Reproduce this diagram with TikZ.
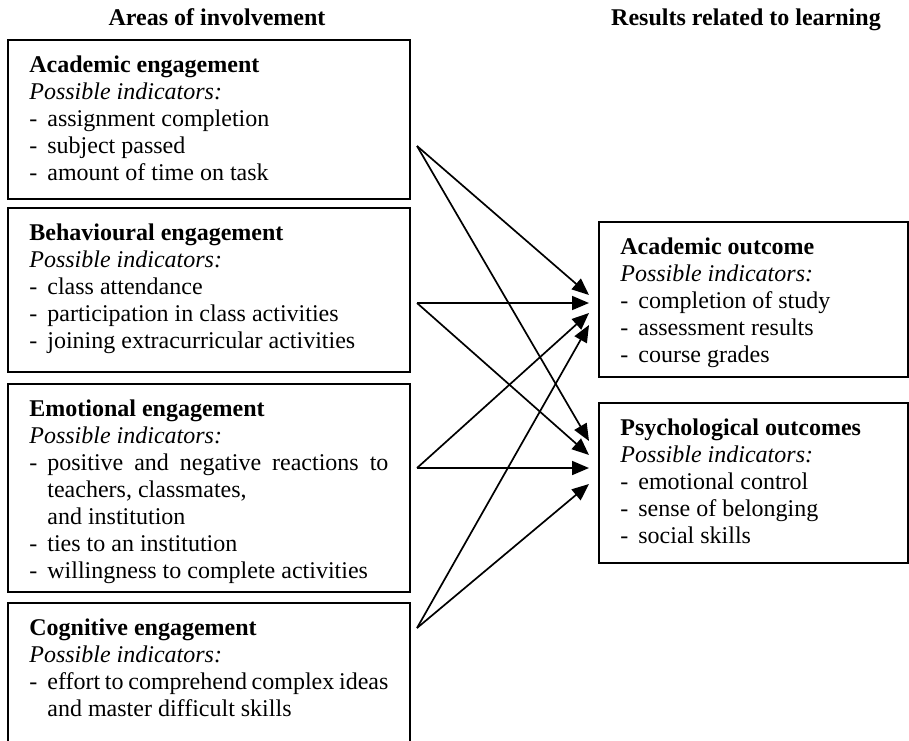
\documentclass[tikz,border=0pt]{standalone}
\usepackage{fontspec}
\setmainfont{Liberation Serif}
\usetikzlibrary{arrows.meta}
\newcommand\itm[1]{\par\noindent\hangindent=9pt\hangafter=1\makebox[9pt][l]{-}#1\par}
\newcommand\hd[1]{\noindent\strut\textbf{#1}\par}
\newcommand\posind{\noindent\textit{Possible indicators:}\par}
\begin{document}
\begin{tikzpicture}[x=0.5pt,y=-0.5pt,
  box/.style={draw,line width=1pt,anchor=north west,inner sep=0pt,outer sep=0pt,minimum width=201pt},
  rbox/.style={box,minimum width=154.5pt},
  txt/.style={anchor=north west,inner sep=0pt,text width=179.5pt,align=justify,font=\fontsize{12}{13.5}\selectfont},
  rtxt/.style={txt,text width=140pt},
  arr/.style={-{Triangle[length=8.5pt,width=7pt]},line width=0.85pt},
  title/.style={font=\fontsize{12}{13.5}\selectfont\bfseries,anchor=base}]
\useasboundingbox (0,0) rectangle (909,740);
% titles
\node[title] (h1) at (217,25) {Areas of involvement};
\node[title] (h2) at (746,25) {Results related to learning};
% left boxes
\node[box,minimum height=79.5pt] (b1) at (8,40) {};
\node[box,minimum height=82pt] (b2) at (8,208) {};
\node[box,minimum height=104pt] (b3) at (8,384) {};
\node[box,draw=none,minimum height=72pt] (b4) at (8,603) {};
\draw[line width=1pt] (b4.south west) -- (b4.north west) -- (b4.north east) -- (b4.south east);
% right boxes
\node[rbox,minimum height=77.5pt] (ra) at (599,222) {};
\node[rbox,minimum height=80pt] (rp) at (599,403) {};
% texts
\node[txt] (t1) at (29,53.1) {\hd{Academic engagement}\posind
  \itm{assignment completion}\itm{subject passed}\itm{amount of time on task}};
\node[txt] (t2) at (29,221.1) {\hd{Behavioural engagement}\posind
  \itm{class attendance}\itm{participation in class activities}\itm{joining extracurricular activities}};
\node[txt] (t3) at (29,397.1) {\hd{Emotional engagement}\posind
  \itm{positive and negative reactions to\linebreak teachers, classmates,\newline and institution}
  \itm{ties to an institution}\itm{willingness to complete activities}};
\node[txt] (t4) at (29,616.1) {\hd{Cognitive engagement}\posind
  \itm{effort to comprehend complex ideas\linebreak and master difficult skills}};
\node[rtxt] (tra) at (620,235.1) {\hd{Academic outcome}\posind
  \itm{completion of study}\itm{assessment results}\itm{course grades}};
\node[rtxt] (trp) at (620,416.1) {\hd{Psychological outcomes}\posind
  \itm{emotional control}\itm{sense of belonging}\itm{social skills}};
% arrow ends
\coordinate (s1) at (417,146);
\coordinate (s2) at (417,303);
\coordinate (s3) at (417,468);
\coordinate (s4) at (417,628);
\coordinate (a1) at (589,295);
\coordinate (a2) at (589,303);
\coordinate (a3) at (589,313);
\coordinate (a4) at (589,325);
\coordinate (p1) at (589,441);
\coordinate (p2) at (589,455);
\coordinate (p3) at (589,468);
\coordinate (p4) at (589,484);
\draw[arr] (s1) -- (a1);
\draw[arr] (s1) -- (p1);
\draw[arr] (s2) -- (a2);
\draw[arr] (s2) -- (p2);
\draw[arr] (s3) -- (a3);
\draw[arr] (s3) -- (p3);
\draw[arr] (s4) -- (a4);
\draw[arr] (s4) -- (p4);
\end{tikzpicture}
\end{document}
